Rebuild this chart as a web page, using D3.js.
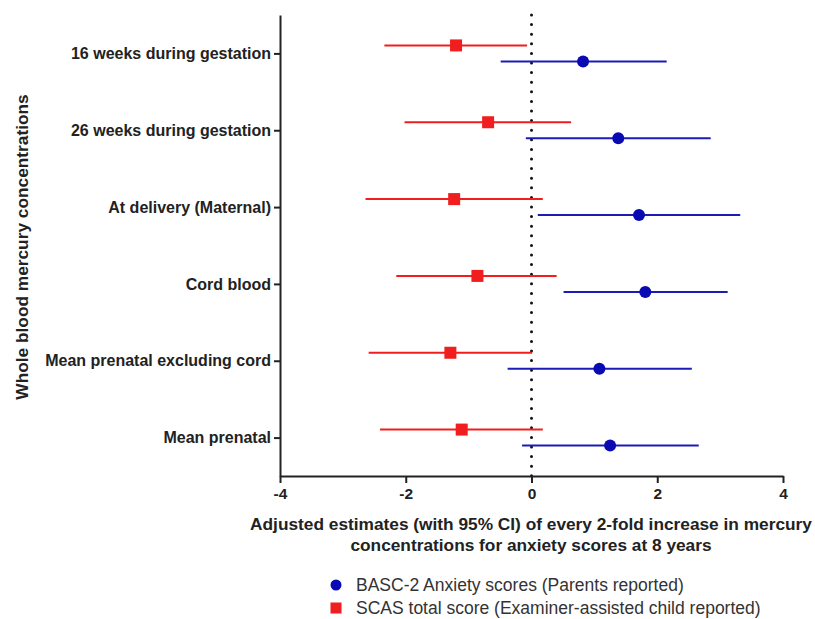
<!DOCTYPE html>
<html>
<head>
<meta charset="utf-8">
<script src="https://cdn.jsdelivr.net/npm/d3@7"></script>
<style>
  body { margin: 0; background: #fff; }
  svg { font-family: "Liberation Sans", Arial, sans-serif; }
  .axis path, .axis line { stroke: #222; stroke-width: 2; }
  .axis text { font-weight: bold; fill: #222; }
  .axis--y text { font-size: 16px; }
  .axis--x text { font-size: 15.5px; }
</style>
</head>
<body>
<svg width="815" height="619"></svg>
<script>
// data
var categories = ["16 weeks during gestation", "26 weeks during gestation", "At delivery (Maternal)",
                  "Cord blood", "Mean prenatal excluding cord", "Mean prenatal"];
var scasEst   = [-1.20, -0.69, -1.23, -0.86, -1.29, -1.11];
var scasLow   = [-2.34, -2.02, -2.64, -2.15, -2.59, -2.41];
var scasHigh  = [-0.07,  0.63,  0.18,  0.40,  0.01,  0.18];
var bascEst   = [ 0.82,  1.38,  1.71,  1.81,  1.08,  1.25];
var bascLow   = [-0.49, -0.09,  0.10,  0.51, -0.38, -0.15];
var bascHigh  = [ 2.15,  2.85,  3.32,  3.12,  2.55,  2.66];
var xTicks = [-4, -2, 0, 2, 4];

var red = "#f01e1e", blue = "#1c1cb4", blueDot = "#0a0ab4";

var svg = d3.select("svg"),
    margin = {top: 15, left: 280},
    width = 503,
    height = 461;

var x = d3.scaleLinear().domain([-4, 4]).range([0, width]),
    y = d3.scalePoint().domain(categories).range([0, height]).padding(0.5);

var g = svg.append("g")
    .attr("transform", "translate(" + margin.left + "," + margin.top + ")");

// zero reference line (dotted)
g.append("line")
    .attr("x1", x(0)).attr("x2", x(0))
    .attr("y1", 0).attr("y2", height)
    .attr("stroke", "#111")
    .attr("stroke-width", 3)
    .attr("stroke-linecap", "round")
    .attr("stroke-dasharray", "0,9.6");

g.append("g")
    .attr("class", "axis axis--x")
    .attr("transform", "translate(0," + height + ")")
    .call(d3.axisBottom(x).tickValues(xTicks).tickSize(7).tickSizeOuter(0).tickPadding(5)
      .tickFormat(function(d) { return String(d); }));

g.append("g")
    .attr("class", "axis axis--y")
    .call(d3.axisLeft(y).tickSize(6).tickSizeOuter(0).tickPadding(3));

var off = 8;

var scas = categories.map(function(c, i) { return {c: c, est: scasEst[i], lo: scasLow[i], hi: scasHigh[i]}; });
var basc = categories.map(function(c, i) { return {c: c, est: bascEst[i], lo: bascLow[i], hi: bascHigh[i]}; });

// SCAS: red squares just above the tick
g.selectAll(".ci-scas")
  .data(scas)
  .enter().append("line")
    .attr("x1", function(d) { return x(d.lo); })
    .attr("x2", function(d) { return x(d.hi); })
    .attr("y1", function(d) { return y(d.c) - off; })
    .attr("y2", function(d) { return y(d.c) - off; })
    .attr("stroke", red).attr("stroke-width", 2);

g.selectAll(".pt-scas")
  .data(scas)
  .enter().append("rect")
    .attr("x", function(d) { return x(d.est) - 6; })
    .attr("y", function(d) { return y(d.c) - off - 6; })
    .attr("width", 12).attr("height", 12)
    .attr("fill", red);

// BASC-2: blue circles just below the tick
g.selectAll(".ci-basc")
  .data(basc)
  .enter().append("line")
    .attr("x1", function(d) { return x(d.lo); })
    .attr("x2", function(d) { return x(d.hi); })
    .attr("y1", function(d) { return y(d.c) + off; })
    .attr("y2", function(d) { return y(d.c) + off; })
    .attr("stroke", blue).attr("stroke-width", 2);

g.selectAll(".pt-basc")
  .data(basc)
  .enter().append("circle")
    .attr("cx", function(d) { return x(d.est); })
    .attr("cy", function(d) { return y(d.c) + off; })
    .attr("r", 6)
    .attr("fill", blueDot);

// axis titles
var xt = svg.append("text")
    .attr("text-anchor", "middle")
    .attr("font-size", "17.3px").attr("font-weight", "bold").attr("fill", "#222");
xt.append("tspan").attr("x", 531).attr("y", 530)
    .text("Adjusted estimates (with 95% CI) of every 2-fold increase in mercury");
xt.append("tspan").attr("x", 531).attr("y", 551)
    .text("concentrations for anxiety scores at 8 years");

svg.append("text")
    .attr("transform", "translate(28,247) rotate(-90)")
    .attr("text-anchor", "middle")
    .attr("font-size", "17.3px").attr("font-weight", "bold").attr("fill", "#222")
    .text("Whole blood mercury concentrations");

// legend
var legend = svg.append("g").attr("transform", "translate(336,585)");
legend.append("circle").attr("cx", 0).attr("cy", 0).attr("r", 5.5).attr("fill", blueDot);
legend.append("text").attr("x", 20).attr("y", 6)
    .attr("font-size", "17.5px").attr("fill", "#333")
    .text("BASC-2 Anxiety scores (Parents reported)");
legend.append("rect").attr("x", -5.5).attr("y", 17.5).attr("width", 11).attr("height", 11).attr("fill", red);
legend.append("text").attr("x", 20).attr("y", 29)
    .attr("font-size", "17.5px").attr("fill", "#333")
    .text("SCAS total score (Examiner-assisted child reported)");
</script>
</body>
</html>
